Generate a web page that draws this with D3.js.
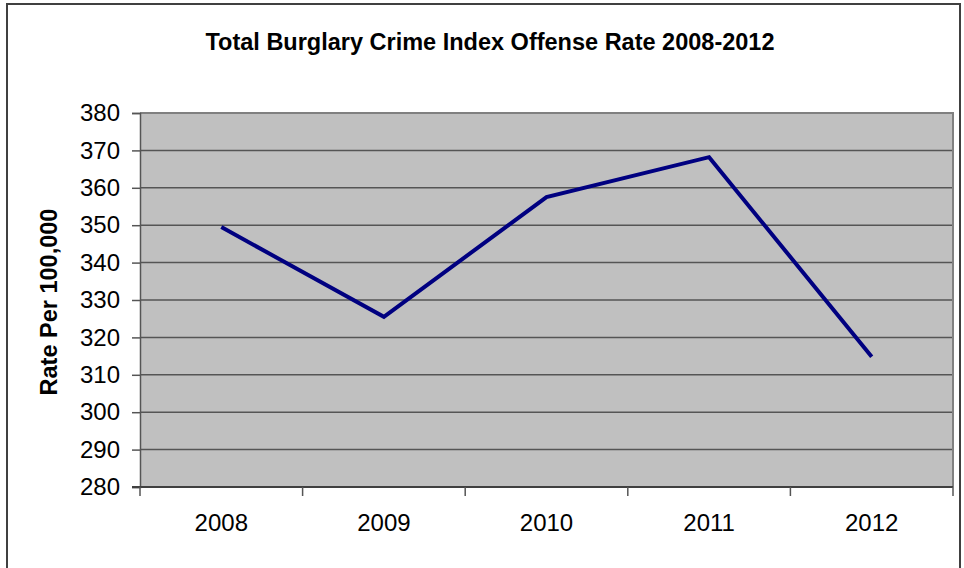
<!DOCTYPE html>
<html>
<head>
<meta charset="utf-8">
<script src="https://cdn.jsdelivr.net/npm/d3@7"></script>
<style>
  html, body { margin: 0; padding: 0; background: #fff; }
  svg { display: block; font-family: "Liberation Sans", Arial, sans-serif; }
</style>
</head>
<body>
<div id="chart"></div>
<script>
// data
const years = ["2008", "2009", "2010", "2011", "2012"];
const rates = [349.5, 325.5, 357.5, 368.2, 314.8];
const yTicks = [280, 290, 300, 310, 320, 330, 340, 350, 360, 370, 380];

const W = 964, H = 568;
const plot = { left: 140, top: 113, right: 953, bottom: 487 };

const svg = d3.select("#chart").append("svg").attr("width", W).attr("height", H);

// outer frame (bottom edge falls outside the picture)
svg.append("path")
  .attr("d", `M7,${H + 5} V4 H960 V${H + 5}`)
  .attr("fill", "none").attr("stroke", "#404040").attr("stroke-width", 2);

const x = d3.scaleBand().domain(years).range([plot.left, plot.right]);
const y = d3.scaleLinear().domain([280, 380]).range([plot.bottom, plot.top]);

// plot area
svg.append("rect")
  .attr("x", plot.left).attr("y", plot.top)
  .attr("width", plot.right - plot.left).attr("height", plot.bottom - plot.top)
  .attr("fill", "#c0c0c0");

// gridlines
svg.append("g").selectAll("line").data(yTicks.slice(1, -1)).join("line")
  .attr("x1", plot.left).attr("x2", plot.right)
  .attr("y1", d => y(d)).attr("y2", d => y(d))
  .attr("stroke", "#555").attr("stroke-width", 1.5);

// top and right border of the plot area
svg.append("path")
  .attr("d", `M${plot.left},${plot.top} H${plot.right} V${plot.bottom}`)
  .attr("fill", "none").attr("stroke", "#808080").attr("stroke-width", 2);

// y axis
const yAxis = svg.append("g")
  .attr("transform", `translate(${plot.left},0)`)
  .call(d3.axisLeft(y).tickValues(yTicks).tickSize(8).tickPadding(12));
yAxis.select(".domain").attr("stroke", "#555").attr("stroke-width", 1.5);
yAxis.selectAll(".tick line").attr("stroke", "#555").attr("stroke-width", 1.5);
yAxis.selectAll("text").attr("font-size", 24).attr("fill", "#000")
  .attr("font-family", "Liberation Sans, Arial, sans-serif");

// x axis, ticks between categories
const xAxisG = svg.append("g").attr("transform", `translate(0,${plot.bottom})`);
xAxisG.append("line")
  .attr("x1", plot.left - 8).attr("x2", plot.right)
  .attr("stroke", "#404040").attr("stroke-width", 2);
const bounds = years.map(d => x(d)).concat([plot.right]);
xAxisG.selectAll(".tk").data(bounds).join("line")
  .attr("class", "tk")
  .attr("x1", d => d).attr("x2", d => d)
  .attr("y1", 0).attr("y2", 9)
  .attr("stroke", "#555").attr("stroke-width", 1.5);
xAxisG.selectAll("text").data(years).join("text")
  .attr("x", d => x(d) + x.bandwidth() / 2)
  .attr("y", 44)
  .attr("text-anchor", "middle")
  .attr("font-size", 24).attr("fill", "#000")
  .text(d => d);

// line
const line = d3.line()
  .x((d, i) => x(years[i]) + x.bandwidth() / 2)
  .y(d => y(d));
svg.append("path").datum(rates)
  .attr("d", line)
  .attr("fill", "none").attr("stroke", "#000080").attr("stroke-width", 4)
  .attr("stroke-linejoin", "miter");

// title
svg.append("text")
  .attr("x", 490).attr("y", 50)
  .attr("text-anchor", "middle")
  .attr("font-size", 23.5).attr("font-weight", "bold")
  .text("Total Burglary Crime Index Offense Rate 2008-2012");

// y label
svg.append("text")
  .attr("transform", "translate(57,302) rotate(-90)")
  .attr("text-anchor", "middle")
  .attr("font-size", 23.5).attr("font-weight", "bold")
  .text("Rate Per 100,000");
</script>
</body>
</html>
